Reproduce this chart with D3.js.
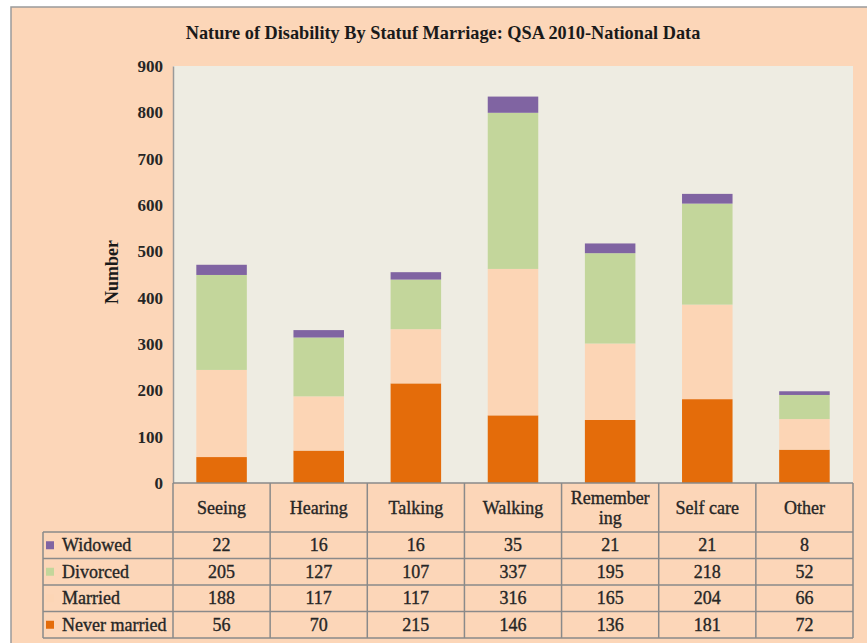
<!DOCTYPE html>
<html>
<head>
<meta charset="utf-8">
<script src="https://cdn.jsdelivr.net/npm/d3@7"></script>
<style>
  body { margin: 0; background: #ffffff; }
  svg { display: block; }
</style>
</head>
<body>
<svg width="867" height="643"></svg>
<script>
// Chart data
const categories = ["Seeing", "Hearing", "Talking", "Walking", "Remembering", "Self care", "Other"];
const categoryLabels = [["Seeing"], ["Hearing"], ["Talking"], ["Walking"], ["Remember", "ing"], ["Self care"], ["Other"]];
const neverMarried = [56, 70, 215, 146, 136, 181, 72];
const married = [188, 117, 117, 316, 165, 204, 66];
const divorced = [205, 127, 107, 337, 195, 218, 52];
const widowed = [22, 16, 16, 35, 21, 21, 8];
const yTicks = [0, 100, 200, 300, 400, 500, 600, 700, 800, 900];

// Series in stacking order (bottom to top)
const series = [
    { name: "Never married", values: neverMarried, color: "#e46c0a" },
    { name: "Married", values: married, color: "#fcd5b5" },
    { name: "Divorced", values: divorced, color: "#c3d69b" },
    { name: "Widowed", values: widowed, color: "#8064a2" }
];

const svg = d3.select("svg");
const serif = "'Liberation Serif', 'Times New Roman', serif";
const textColor = "#262626";

// Layout
const plot = { left: 173, right: 853, top: 66, bottom: 483 };
const tableLeft = 43;
const headerBottom = 532;
const rowH = 26.5;

// Outer frame
svg.append("rect")
    .attr("x", 11).attr("y", 7)
    .attr("width", 900).attr("height", 700)
    .attr("fill", "#fcd6b8")
    .attr("stroke", "#9a9a9a")
    .attr("stroke-width", 1.5);

// Title
svg.append("text")
    .attr("x", 443).attr("y", 39)
    .attr("text-anchor", "middle")
    .attr("font-family", serif)
    .attr("font-weight", "bold")
    .attr("font-size", "18.3px")
    .attr("fill", "#1a1a1a")
    .text("Nature of Disability By Statuf Marriage: QSA 2010-National Data");

// Scales
const x = d3.scaleBand()
    .domain(categories)
    .range([plot.left, plot.right])
    .paddingInner(0.48)
    .paddingOuter(0.24);

const y = d3.scaleLinear()
    .domain([0, 900])
    .range([plot.bottom, plot.top]);

// Plot background
svg.append("rect")
    .attr("x", plot.left).attr("y", plot.top)
    .attr("width", plot.right - plot.left)
    .attr("height", plot.bottom - plot.top)
    .attr("fill", "#eeece2");

// Stacked bars
const rows = categories.map((c, i) => {
    const r = { category: c };
    series.forEach(s => { r[s.name] = s.values[i]; });
    return r;
});
const stack = d3.stack().keys(series.map(s => s.name));
const stacked = stack(rows);

svg.append("g")
    .selectAll("g")
    .data(stacked)
    .join("g")
    .attr("fill", (d, i) => series[i].color)
    .selectAll("rect")
    .data(d => d)
    .join("rect")
    .attr("x", d => x(d.data.category))
    .attr("y", d => y(d[1]))
    .attr("width", x.bandwidth())
    .attr("height", d => y(d[0]) - y(d[1]));

// Y axis
const yAxis = svg.append("g")
    .attr("transform", `translate(${plot.left},0)`)
    .call(d3.axisLeft(y).tickValues(yTicks).tickSize(0).tickPadding(10));
yAxis.select(".domain").attr("stroke", "#9a9a9a").attr("stroke-width", 1.5);
yAxis.selectAll("text")
    .attr("font-family", serif)
    .attr("font-weight", "bold")
    .attr("font-size", "17px")
    .attr("fill", textColor);

// Y axis title
svg.append("text")
    .attr("transform", `translate(118,272) rotate(-90)`)
    .attr("text-anchor", "middle")
    .attr("font-family", serif)
    .attr("font-weight", "bold")
    .attr("font-size", "18px")
    .attr("fill", "#1a1a1a")
    .text("Number");

// Data table
const table = svg.append("g");
const gridColor = "#8a8a8a";
const colEdges = categories.map(c => x(c) - x.step() * x.paddingInner() / 2);
colEdges.push(plot.right);

// Slightly heavier regular text for the table cells
function cellText(sel) {
    return sel
        .attr("font-family", serif)
        .attr("font-size", "18px")
        .attr("fill", textColor)
        .attr("stroke", textColor)
        .attr("stroke-width", 0.35);
}

// Header row: category labels
categories.forEach((c, i) => {
    const cx = x(c) + x.bandwidth() / 2;
    const lines = categoryLabels[i];
    const midY = (plot.bottom + headerBottom) / 2;
    lines.forEach((line, j) => {
        table.append("text")
            .attr("x", cx)
            .attr("y", midY + 6 + (j - (lines.length - 1) / 2) * 20)
            .attr("text-anchor", "middle")
            .call(cellText)
            .text(line);
    });
});

// Value rows (top row is the top series)
const tableSeries = series.slice().reverse();
tableSeries.forEach((s, r) => {
    const rowTop = headerBottom + r * rowH;
    const ty = rowTop + rowH / 2 + 6;
    table.append("rect")
        .attr("x", tableLeft + 3).attr("y", rowTop + rowH / 2 - 4)
        .attr("width", 8).attr("height", 8)
        .attr("fill", s.color);
    table.append("text")
        .attr("x", tableLeft + 19).attr("y", ty)
        .call(cellText)
        .text(s.name);
    categories.forEach((c, i) => {
        table.append("text")
            .attr("x", x(c) + x.bandwidth() / 2)
            .attr("y", ty)
            .attr("text-anchor", "middle")
            .call(cellText)
            .text(s.values[i]);
    });
});

// Grid lines
const tableBottom = headerBottom + tableSeries.length * rowH;
table.append("line")
    .attr("x1", plot.left).attr("x2", plot.right)
    .attr("y1", plot.bottom).attr("y2", plot.bottom);
for (let r = 0; r <= tableSeries.length; r++) {
    const yy = headerBottom + r * rowH;
    table.append("line")
        .attr("x1", tableLeft).attr("x2", plot.right)
        .attr("y1", yy).attr("y2", yy);
}
colEdges.forEach(cx => {
    table.append("line")
        .attr("x1", cx).attr("x2", cx)
        .attr("y1", plot.bottom).attr("y2", tableBottom);
});
table.append("line")
    .attr("x1", tableLeft).attr("x2", tableLeft)
    .attr("y1", headerBottom).attr("y2", tableBottom);
table.selectAll("line")
    .attr("stroke", gridColor)
    .attr("stroke-width", 1.5);
</script>
</body>
</html>
